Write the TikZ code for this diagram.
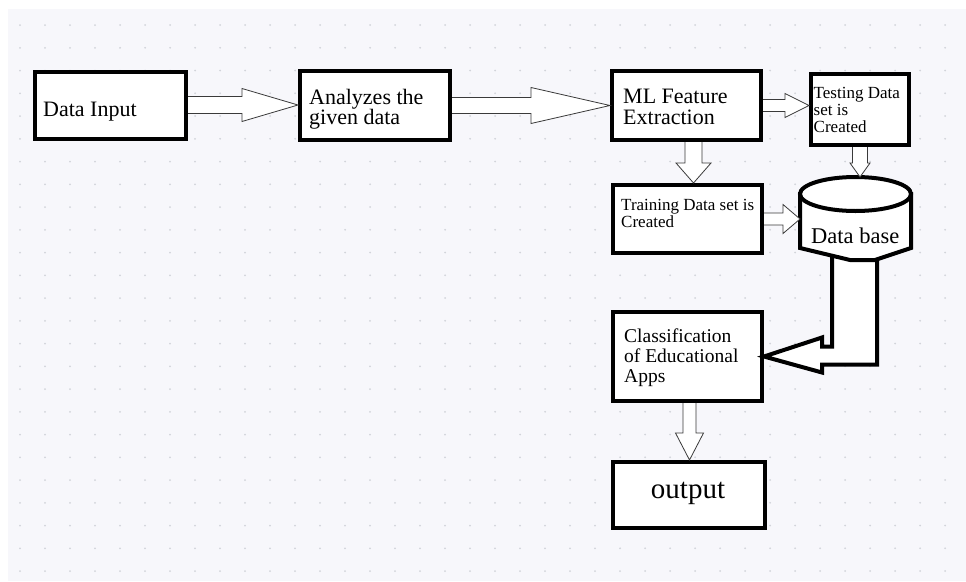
\documentclass[tikz,border=0pt]{standalone}
\usepackage{fontspec}
\setmainfont{Liberation Serif}
\usetikzlibrary{calc}
\definecolor{paper}{HTML}{F7F7FB}
\definecolor{griddot}{HTML}{D2D4DA}
\definecolor{inkline}{HTML}{3A3A3A}
\tikzset{
  % ---- boxes ------------------------------------------------------------
  fbox/.style={draw=black, line width=4pt, fill=white, inner sep=0pt,
    line join=miter},
  ftext/.style={inner sep=0pt, anchor=base west, align=left, text=black},
  ftbig/.style={ftext, font=\fontsize{22}{20.5}\selectfont},
  ftsmall/.style={ftext, font=\fontsize{17}{16.8}\selectfont},
  % ---- hollow block arrows ------------------------------------------------
  hollow/.style={draw=inkline, line width=0.8pt, fill=white, line join=miter},
  bigarrow/.style={draw=black, line width=4pt, fill=white, line join=miter},
}
% block arrow to the right: from, to, shaft half, head half, head length
\newcommand{\blockright}[5]{%
  \draw[hollow] ($(#1)+(0,-#3)$) -- ($(#1-|#2)+(-#5,-#3)$)
    -- ($(#1-|#2)+(-#5,-#4)$) -- (#1-|#2) -- ($(#1-|#2)+(-#5,#4)$)
    -- ($(#1-|#2)+(-#5,#3)$) -- ($(#1)+(0,#3)$);}
% block arrow downwards: from, to, shaft half, head half, head length
\newcommand{\blockdown}[5]{%
  \draw[hollow] ($(#1)+(-#3,0)$) -- ($(#1|-#2)+(-#3,-#5)$)
    -- ($(#1|-#2)+(-#4,-#5)$) -- (#1|-#2) -- ($(#1|-#2)+(#4,-#5)$)
    -- ($(#1|-#2)+(#3,-#5)$) -- ($(#1)+(#3,0)$);}
\begin{document}
\begin{tikzpicture}[x=1pt, y=-1pt]

% ---- page and dotted grid ---------------------------------------------
\useasboundingbox (0,0) rectangle (966,581);
\fill[white] (0,0) rectangle (966,581);
\fill[paper] (8,9) rectangle (966,581);
\foreach \i in {0,...,38}
  \foreach \j in {0,...,24}
    \fill[griddot] ({20+25*\i},{25+22.75*\j}) circle[radius=1pt];

% ---- row 1 --------------------------------------------------------------
\node[fbox, minimum width=151pt, minimum height=67pt] (inp) at (110.5,105) {};
\node[fbox, minimum width=150pt, minimum height=69pt] (ana) at (375,105.5) {};
\node[fbox, minimum width=149pt, minimum height=69pt] (mlf) at (686.5,105.5) {};
\node[fbox, minimum width=98pt, minimum height=71pt] (tst) at (860,109.5) {};

% ---- row 2 --------------------------------------------------------------
\node[fbox, minimum width=149pt, minimum height=68pt] (trn) at (687.5,219) {};
\node[inner sep=0pt, outer sep=0pt, minimum width=111pt,
  minimum height=83pt] (db) at (855.5,218.5) {};

% ---- rows 3 and 4 -------------------------------------------------------
\node[fbox, minimum width=149pt, minimum height=89pt] (cls) at (687.5,356.5) {};
\node[fbox, minimum width=152pt, minimum height=66pt] (out) at (689,495) {};

% ---- data base to classification --------------------------------------
\draw[bigarrow] let \p1=(db.south), \p2=(cls.east) in
  ({\x1-23.5pt},{\y1+14pt}) -- ({\x1-23.5pt},{\y2+10pt})
  -- ({\x2+58pt},{\y2+10pt}) -- ({\x2+58pt},{\y2+19pt}) -- (\x2,\y2)
  -- ({\x2+58pt},{\y2-16pt}) -- ({\x2+58pt},{\y2-8pt})
  -- ({\x1+21.5pt},{\y2-8pt}) -- ({\x1+21.5pt},{\y1+14pt});

% ---- data base cylinder -------------------------------------------------
\draw[fbox] ($(db.north west)+(0,17)$) -- ($(db.south west)+(0,-12)$)
  -- ($(db.south)+(-5.5,0)$) -- ($(db.south)+(19.5,0)$)
  -- ($(db.south east)+(0,-12)$) -- ($(db.north east)+(0,17)$) -- cycle;
\draw[fbox] ($(db.north)+(0,17)$) ellipse[x radius=55.5pt, y radius=17pt];

% ---- texts (anchored on the last line) ----------------------------------
\node[ftbig] (inptxt) at (43,116.5) {Data Input};
\node[ftbig] (anatxt) at (309,124.5) {Analyzes the\\given data};
\node[ftbig] (mlftxt) at (623,124) {ML Feature\\Extraction};
\node[ftsmall] (tsttxt) at (813.5,132) {Testing Data\\set is\\Created};
\node[ftsmall] (trntxt) at (621,227) {Training Data set is\\Created};
\node[ftext, font=\fontsize{22.5}{24}\selectfont] (dbtxt) at (811,243)
  {Data base};
\node[ftext, font=\fontsize{19.5}{20}\selectfont] (clstxt) at (624,382)
  {Classification\\of Educational\\Apps};
\node[ftext, anchor=base, font=\fontsize{29}{30}\selectfont] (outtxt)
  at ($(out.center)+(-1,3)$) {output};

% ---- hollow arrows ------------------------------------------------------
\coordinate (mlfout) at ($(mlf.south)+(7,0)$);
\coordinate (clsout) at ($(cls.south)+(2,0)$);
\blockright{inp.east}{ana.west}{8.5}{16.5}{56}
\blockright{ana.east}{mlf.west}{8}{18}{79}
\blockright{mlf.east}{tst.west}{6}{12}{24}
\blockdown{mlfout}{trn.north}{8.5}{17.5}{20}
\blockdown{tst.south}{db.north}{7.5}{10}{14}
\blockright{trn.east}{db.west}{6}{14.5}{17}
\blockdown{clsout}{out.north}{6.5}{14}{27}

\end{tikzpicture}
\end{document}
